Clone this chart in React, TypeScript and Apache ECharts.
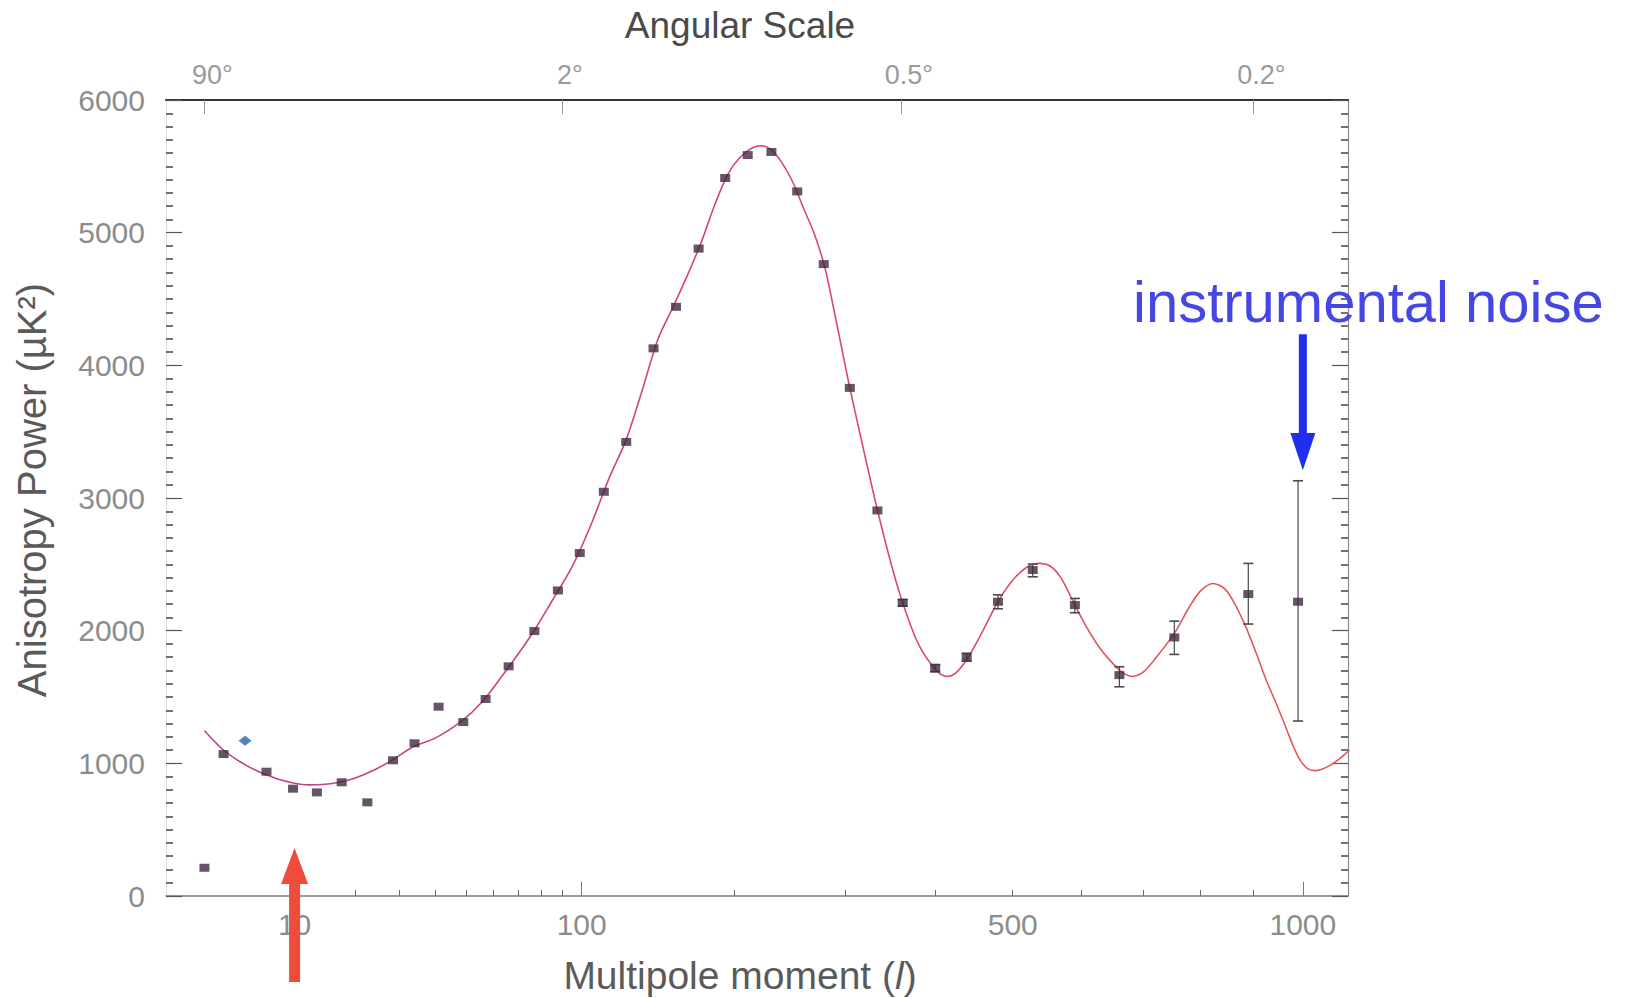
import React, { useEffect, useRef } from "react";
import * as echarts from "echarts";

// ---- scale: x axis is drawn in u = l^0.4 ----
const EXP = 0.4;
const toU = (l: number) => Math.pow(l, EXP);

// ---- data ----
const curveL = [2,3,4,5,6,7,8,10,12,14,17,20,24,28,34,40,48,56,65,75,85,95,105,115,125,135,145,155,165,175,185,195,205,215,222,230,240,250,260,270,280,290,300,305,320,334,350,362,380,400,414,425,440,460,480,500,520,538,555,570,590,610,630,650,665,680,700,720,753,780,800,823,845,865,885,905,925,946,965,980,995,1010,1025,1040,1060,1080,1100];
const curveV = [1246,1110,1030,975,935,905,880,850,838,840,858,890,950,1020,1130,1190,1310,1470,1700,1950,2220,2480,2800,3150,3440,3820,4200,4440,4680,4930,5210,5440,5570,5640,5655,5630,5530,5380,5180,4990,4740,4380,4010,3830,3340,2910,2480,2210,1900,1710,1655,1680,1790,2000,2220,2380,2480,2507,2480,2390,2193,2010,1860,1750,1685,1655,1690,1790,1980,2180,2300,2356,2315,2195,2030,1835,1630,1445,1270,1130,1020,960,945,955,990,1040,1100];

const pointL = [2, 3.1, 6.7, 9.8, 13.2, 17.4, 22.5, 28.4, 34, 41, 49, 57, 66, 77, 88, 99, 112, 125, 142, 157, 173, 193, 211, 231, 254, 279, 305, 334, 362, 400, 439, 480, 528, 590, 660, 753, 890, 990];
const pointV = [213, 1070, 937, 809, 781, 857, 706, 1023, 1151, 1427, 1311, 1485, 1731, 1997, 2303, 2585, 3047, 3423, 4128, 4441, 4880, 5412, 5585, 5608, 5311, 4763, 3830, 2906, 2210, 1716, 1799, 2218, 2457, 2193, 1665, 1949, 2276, 2218];

const bluePointL = [4.7];
const bluePointV = [1170];

const errL = [362, 400, 439, 480, 528, 590, 660, 753, 890, 990];
const errLow = [2185, 1690, 1770, 2165, 2406, 2135, 1577, 1821, 2050, 1319];
const errHigh = [2235, 1745, 1830, 2270, 2502, 2243, 1728, 2072, 2507, 3130];

// ---- tick labels ----
const xLabelL = [10, 100, 500, 1000];
const xLabelText = ["10", "100", "500", "1000"];
const xMajorTickL = [10, 100, 1000];
const xMinorTickL = [20, 30, 40, 50, 60, 70, 80, 90, 200, 300, 400, 500, 600, 700, 800, 900];
const angleL = [2, 90, 360, 900];
const angleText = ["90°", "2°", "0.5°", "0.2°"];

// annotations (l position)
const noiseArrowL = 1000;
const largeScaleArrowL = 10;

const X_MIN = 0.811;
const X_MAX = 16.446;
const FONT = "'Liberation Sans', Arial, Helvetica, sans-serif";

function labelFor(v: number, ls: number[], texts: string[]) {
  for (let i = 0; i < ls.length; i++) {
    if (Math.abs(toU(ls[i]) - v) < 1e-6) return texts[i];
  }
  return "";
}

export default function App() {
  const ref = useRef<HTMLDivElement>(null);
  useEffect(() => {
    if (!ref.current) return;
    const chart = echarts.init(ref.current, undefined, { renderer: "svg" });
    const curveColor = new echarts.graphic.LinearGradient(0, 0, 1, 0, [
      { offset: 0, color: "#c0408c" },
      { offset: 0.5, color: "#d8466e" },
      { offset: 1, color: "#e65a52" },
    ]);
    const option: any = {
      animation: false,
      backgroundColor: "#ffffff",
      grid: { left: 166, top: 100, width: 1182, height: 796 },
      xAxis: [
        {
          type: "value", position: "bottom", min: X_MIN, max: X_MAX,
          axisLine: { show: true, onZero: false, lineStyle: { color: "#7a7a7a", width: 1.5 } },
          axisTick: { show: true, inside: true, length: 14, customValues: xMajorTickL.map(toU), lineStyle: { color: "#7a7a7a", width: 1 } },
          axisLabel: {
            show: true, customValues: xLabelL.map(toU), margin: 13, fontSize: 30, color: "#8c8c8c", fontFamily: FONT,
            formatter: (v: number) => labelFor(v, xLabelL, xLabelText),
          },
          splitLine: { show: false },
        },
        {
          type: "value", position: "bottom", min: X_MIN, max: X_MAX,
          axisLine: { show: false, onZero: false },
          axisTick: { show: true, inside: true, length: 6, customValues: xMinorTickL.map(toU), lineStyle: { color: "#6a6a6a", width: 1 } },
          axisLabel: { show: false },
          splitLine: { show: false },
        },
        {
          type: "value", position: "top", min: X_MIN, max: X_MAX,
          axisLine: { show: true, onZero: false, lineStyle: { color: "#333333", width: 2 } },
          axisTick: { show: true, inside: true, length: 14, customValues: angleL.map(toU), lineStyle: { color: "#9a9a9a", width: 1 } },
          axisLabel: {
            show: true, customValues: angleL.map(toU), margin: 12, fontSize: 27, color: "#9a9a9a", fontFamily: FONT,
            padding: [0, 0, 0, 16],
            formatter: (v: number) => labelFor(v, angleL, angleText),
          },
          splitLine: { show: false },
        },
      ],
      yAxis: [
        {
          type: "value", position: "left", min: 0, max: 6000, interval: 1000,
          axisLine: { show: true, onZero: false, lineStyle: { color: "#dddddd", width: 1 } },
          axisTick: { show: true, inside: true, length: 16, lineStyle: { color: "#555555", width: 1.2 } },
          minorTick: { show: true, splitNumber: 10, length: 7, lineStyle: { color: "#444444", width: 1.5 } },
          axisLabel: { show: true, margin: 21, fontSize: 30, color: "#8c8c8c", fontFamily: FONT, formatter: (v: number) => String(v) },
          splitLine: { show: false },
        },
        {
          type: "value", position: "right", min: 0, max: 6000, interval: 1000,
          axisLine: { show: true, onZero: false, lineStyle: { color: "#8a8a8a", width: 1.2 } },
          axisTick: { show: true, inside: true, length: 16, lineStyle: { color: "#555555", width: 1.2 } },
          minorTick: { show: true, splitNumber: 10, length: 7, lineStyle: { color: "#444444", width: 1.5 } },
          axisLabel: { show: false },
          splitLine: { show: false },
        },
      ],
      series: [
        {
          type: "line", name: "model", xAxisIndex: 0, yAxisIndex: 0,
          data: curveL.map((l, i) => [toU(l), curveV[i]]),
          smooth: 0.3, symbol: "none", showSymbol: false, clip: true, z: 2,
          lineStyle: { color: curveColor, width: 1.6 },
        },
        {
          type: "custom", name: "errors", xAxisIndex: 0, yAxisIndex: 0, z: 3,
          encode: { x: 0, y: [1, 2] },
          data: errL.map((l, i) => [toU(l), errLow[i], errHigh[i]]),
          renderItem: (params: any, api: any) => {
            const x = api.value(0);
            const lo = api.coord([x, api.value(1)]);
            const hi = api.coord([x, api.value(2)]);
            const w = 5;
            const st = { stroke: "#4a4a4a", lineWidth: 1.2 };
            return {
              type: "group",
              children: [
                { type: "line", shape: { x1: lo[0], y1: lo[1], x2: hi[0], y2: hi[1] }, style: st },
                { type: "line", shape: { x1: lo[0] - w, y1: lo[1], x2: lo[0] + w, y2: lo[1] }, style: { stroke: "#4a4a4a", lineWidth: 1.6 } },
                { type: "line", shape: { x1: hi[0] - w, y1: hi[1], x2: hi[0] + w, y2: hi[1] }, style: { stroke: "#4a4a4a", lineWidth: 1.6 } },
              ],
            };
          },
        },
        {
          type: "scatter", name: "data", xAxisIndex: 0, yAxisIndex: 0, z: 4,
          symbol: "rect", symbolSize: [10, 8],
          itemStyle: { color: "#3e2a40" },
          data: pointL.map((l, i) => [toU(l), pointV[i]]),
        },
        {
          type: "scatter", name: "data2", xAxisIndex: 0, yAxisIndex: 0, z: 4,
          symbol: "diamond", symbolSize: [13, 10],
          itemStyle: { color: "#2e5fa6" },
          data: bluePointL.map((l, i) => [toU(l), bluePointV[i]]),
        },
        {
          type: "custom", name: "annotations", xAxisIndex: 0, yAxisIndex: 0, z: 6, clip: false,
          data: [[toU(largeScaleArrowL), 0], [toU(noiseArrowL), 1]],
          renderItem: (params: any, api: any) => {
            const u = api.value(0);
            const kind = api.value(1);
            if (kind === 0) {
              const p = api.coord([u, 0]);
              const x = p[0];
              const y0 = p[1];
              return {
                type: "group",
                children: [
                  { type: "rect", shape: { x: x - 5.5, y: y0 - 14, width: 11, height: 100 }, style: { fill: "#f04c3c" } },
                  { type: "polygon", shape: { points: [[x, y0 - 48], [x - 13.5, y0 - 12], [x + 13.5, y0 - 12]] }, style: { fill: "#f04c3c" } },
                ],
              };
            }
            const top = api.coord([u, 4235]);
            const base = api.coord([u, 3490]);
            const tip = api.coord([u, 3210]);
            const x = top[0];
            return {
              type: "group",
              children: [
                { type: "rect", shape: { x: x - 4, y: top[1], width: 8, height: base[1] - top[1] + 2 }, style: { fill: "#1f2ff0" } },
                { type: "polygon", shape: { points: [[x, tip[1]], [x - 12.5, base[1]], [x + 12.5, base[1]]] }, style: { fill: "#1f2ff0" } },
              ],
            };
          },
        },
      ],
      graphic: [
        {
          type: "text", x: 740, y: 25,
          style: { text: "Angular Scale", fontSize: 37, fill: "#4a4a4a", fontFamily: FONT, align: "center", verticalAlign: "middle" },
        },
        {
          type: "text", x: 740, y: 975,
          style: {
            text: "Multipole moment ({i|l})", fontSize: 39, fill: "#5a5a5a", fontFamily: FONT, align: "center", verticalAlign: "middle",
            rich: { i: { fontStyle: "italic", fontSize: 39, fill: "#5a5a5a", fontFamily: FONT } },
          },
        },
        {
          type: "text", x: 32, y: 490, rotation: Math.PI / 2,
          style: { text: "Anisotropy Power (µK²)", fontSize: 40, fill: "#5a5a5a", fontFamily: FONT, align: "center", verticalAlign: "middle" },
        },
        {
          type: "text", x: 1133, y: 301, z: 10,
          style: { text: "instrumental noise", fontSize: 58, fill: "#4646e6", fontFamily: FONT, align: "left", verticalAlign: "middle" },
        },
      ],
    };
    chart.setOption(option);
    return () => chart.dispose();
  }, []);
  return (
    <div
      ref={ref}
      style={{ position: "fixed", left: 0, top: 0, width: 1630, height: 998, background: "#ffffff" }}
    />
  );
}
